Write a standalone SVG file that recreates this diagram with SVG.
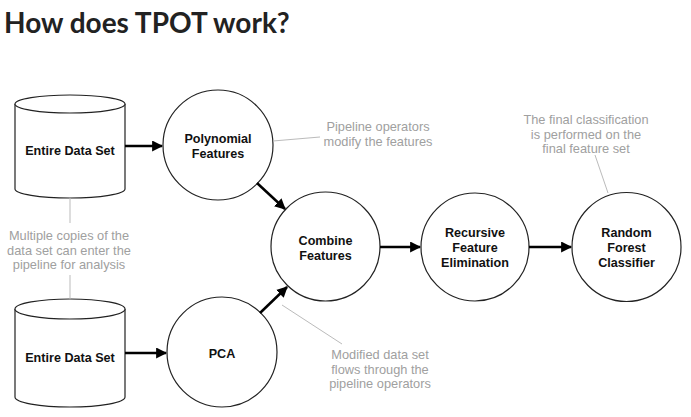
<svg xmlns="http://www.w3.org/2000/svg" width="691" height="417" viewBox="0 0 691 417">
<style>
.title{font-family:Lato,"Liberation Sans",sans-serif;font-weight:bold;font-size:28px;fill:#222;}
.node{fill:#fff;stroke:#222;stroke-width:1.2;}
.lbl{font-family:"Liberation Sans",Arial,sans-serif;font-weight:bold;font-size:12.6px;fill:#111;text-anchor:middle;}
.note{font-family:"Liberation Sans",Arial,sans-serif;font-size:12.8px;fill:#a0a0a0;text-anchor:middle;}
.lead{stroke:#bbb;stroke-width:1;fill:none;}
.arr{stroke:#000;stroke-width:2.5;fill:none;marker-end:url(#ah);}
</style>
<defs>
<marker id="ah" viewBox="0 0 10 10" refX="9" refY="5" markerWidth="4.4" markerHeight="4.4" orient="auto" markerUnits="strokeWidth">
<path d="M0,0 L10,5 L0,10 z" fill="#000"/>
</marker>
</defs>
<rect width="691" height="417" fill="#fff"/>
<text class="title" x="4" y="33">How does TPOT work?</text>

<g id="data1">
<path class="node" d="M15,104 L15,189 A55,9 0 0 0 125,189 L125,104"/>
<ellipse class="node" cx="70" cy="104" rx="55" ry="9"/>
<text class="lbl" x="70" y="155">Entire Data Set</text>
</g>
<g id="data2">
<path class="node" d="M15,309 L15,397 A55,10 0 0 0 125,397 L125,309"/>
<ellipse class="node" cx="70" cy="309" rx="55" ry="10"/>
<text class="lbl" x="70" y="362">Entire Data Set</text>
</g>
<g id="poly">
<circle class="node" cx="218" cy="145" r="55"/>
<text class="lbl" x="218" y="143">Polynomial</text>
<text class="lbl" x="218" y="158">Features</text>
</g>
<g id="pca">
<circle class="node" cx="222" cy="352" r="55"/>
<text class="lbl" x="222" y="358">PCA</text>
</g>
<g id="combine">
<circle class="node" cx="325.5" cy="246.5" r="54.5"/>
<text class="lbl" x="325.5" y="245">Combine</text>
<text class="lbl" x="325.5" y="260">Features</text>
</g>
<g id="rfe">
<circle class="node" cx="475" cy="247" r="54"/>
<text class="lbl" x="475" y="237">Recursive</text>
<text class="lbl" x="475" y="252">Feature</text>
<text class="lbl" x="475" y="267">Elimination</text>
</g>
<g id="rf">
<circle class="node" cx="626.5" cy="247" r="54.5"/>
<text class="lbl" x="626.5" y="237">Random</text>
<text class="lbl" x="626.5" y="252">Forest</text>
<text class="lbl" x="626.5" y="267">Classifier</text>
</g>

<g id="notes">
<text class="note" x="69" y="240">Multiple copies of the</text>
<text class="note" x="69" y="254.5">data set can enter the</text>
<text class="note" x="69" y="269">pipeline for analysis</text>
<text class="note" x="378" y="131">Pipeline operators</text>
<text class="note" x="378" y="145.5">modify the features</text>
<text class="note" x="380" y="359">Modified data set</text>
<text class="note" x="380" y="373.5">flows through the</text>
<text class="note" x="380" y="388">pipeline operators</text>
<text class="note" x="586" y="124">The final classification</text>
<text class="note" x="586" y="138.5">is performed on the</text>
<text class="note" x="586" y="153">final feature set</text>
</g>

<g id="connectors">
<line class="lead" x1="70" y1="198" x2="70" y2="223"/>
<line class="lead" x1="70" y1="275" x2="70" y2="299"/>
<line class="lead" x1="273" y1="141" x2="320" y2="137"/>
<line class="lead" x1="282" y1="305" x2="342" y2="344"/>
<line class="lead" x1="595" y1="155" x2="608" y2="193"/>
<line class="arr" x1="125" y1="146" x2="162" y2="146"/>
<line class="arr" x1="125" y1="353" x2="166" y2="353"/>
<line class="arr" x1="257" y1="183" x2="285" y2="209"/>
<line class="arr" x1="260" y1="313" x2="287" y2="287"/>
<line class="arr" x1="380" y1="247" x2="420" y2="247"/>
<line class="arr" x1="529" y1="247" x2="571" y2="247"/>
</g>
</svg>
